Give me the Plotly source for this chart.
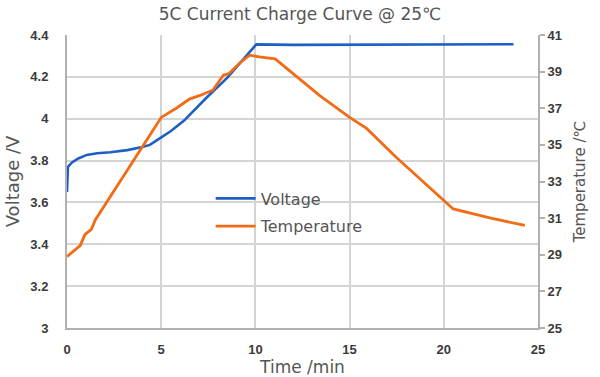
import plotly.graph_objects as go

# Voltage series (time in min, voltage in V)
volt_time = [0, 0.05, 0.25, 0.6, 1.05, 1.6, 2.3, 3.2, 4.0, 4.4, 4.9, 5.5, 6.2,
             7.4, 8.5, 9.35, 9.9, 10.05, 12, 15, 18, 21, 23, 23.7]
volt_vals = [3.65, 3.77, 3.79, 3.81, 3.827, 3.835, 3.84, 3.85, 3.865, 3.875,
             3.905, 3.94, 3.99, 4.10, 4.195, 4.28, 4.34, 4.355, 4.353, 4.353,
             4.353, 4.353, 4.353, 4.356]

# Temperature series (time in min, temperature in degC)
temp_time = [0, 0.7, 0.95, 1.3, 1.5, 2.5, 3.5, 4.6, 5.0, 5.8, 6.5, 7.06, 7.75,
             8.3, 8.6, 9.2, 9.7, 10.2, 11.05, 13.4, 15.0, 15.9, 17.5, 19.96,
             20.5, 22.5, 24.3]
temp_vals = [28.9, 29.5, 30.1, 30.4, 30.9, 32.5, 34.1, 35.8, 36.5, 37.0, 37.5,
             37.7, 38.0, 38.8, 38.9, 39.5, 39.9, 39.8, 39.7, 37.7, 36.5, 35.9,
             34.3, 32.0, 31.5, 31.0, 30.6]

title_text = "5C Current Charge Curve @ 25℃"
x_title = "Time /min"
y1_title = "Voltage /V"
y2_title = "Temperature /℃"

BLUE = "#1f5fc4"
ORANGE = "#f26b16"
GRID = "#d4d4d4"
AXIS = "#b0b0b0"
FONT = "Liberation Sans, Arial, sans-serif"
WIDE = "DejaVu Sans, Verdana, sans-serif"

fig = go.Figure()
fig.add_trace(go.Scatter(x=volt_time, y=volt_vals, mode="lines", name="Voltage",
                         line=dict(color=BLUE, width=2.6), legendgroup="v"))
fig.add_trace(go.Scatter(x=temp_time, y=temp_vals, mode="lines", name="Temperature",
                         line=dict(color=ORANGE, width=2.8), yaxis="y2",
                         legendgroup="t"))

tickfont = dict(family=FONT, size=13, color="#3a3a3a", weight="bold")

fig.update_layout(
    width=600, height=377,
    margin=dict(l=67, r=62, t=35, b=49),
    paper_bgcolor="white", plot_bgcolor="white",
    title=dict(text=title_text, x=0.5, xanchor="center", y=0.962, yanchor="middle",
               font=dict(family=WIDE, size=17, color="#555555")),
    xaxis=dict(range=[0, 25], dtick=5, showgrid=True, gridcolor=GRID, gridwidth=1.5,
               showline=True, linecolor=AXIS, linewidth=2, zeroline=False,
               ticks="outside", ticklen=8, tickcolor="rgba(0,0,0,0)",
               tickfont=tickfont, automargin=False,
               title=dict(text=x_title, standoff=0,
                          font=dict(family=WIDE, size=17, color="#555555"))),
    yaxis=dict(range=[3, 4.4], dtick=0.2, showgrid=True, gridcolor=GRID, gridwidth=1.5,
               showline=True, linecolor=AXIS, linewidth=2, zeroline=False,
               ticks="outside", ticklen=14, tickcolor="rgba(0,0,0,0)",
               tickfont=tickfont, automargin=False,
               title=dict(text=y1_title, standoff=6,
                          font=dict(family=WIDE, size=18, color="#555555"))),
    yaxis2=dict(range=[25, 41], tick0=25, dtick=2, overlaying="y", side="right",
                showgrid=False, showline=True, linecolor=AXIS, linewidth=2,
                zeroline=False, ticks="outside", ticklen=5, tickcolor=AXIS,
                tickwidth=1.5, tickfont=tickfont, automargin=False,
                title=dict(text=y2_title, standoff=13,
                           font=dict(family=WIDE, size=15, color="#555555"))),
    legend=dict(x=0.305, y=0.50, xanchor="left", yanchor="top",
                bgcolor="rgba(0,0,0,0)", borderwidth=0,
                font=dict(family=WIDE, size=16, color="#555555"),
                itemwidth=40, tracegroupgap=4),
    showlegend=True,
)

fig.write_html("out.html", config={"displayModeBar": False},
               post_script="document.body.style.margin='0';")
